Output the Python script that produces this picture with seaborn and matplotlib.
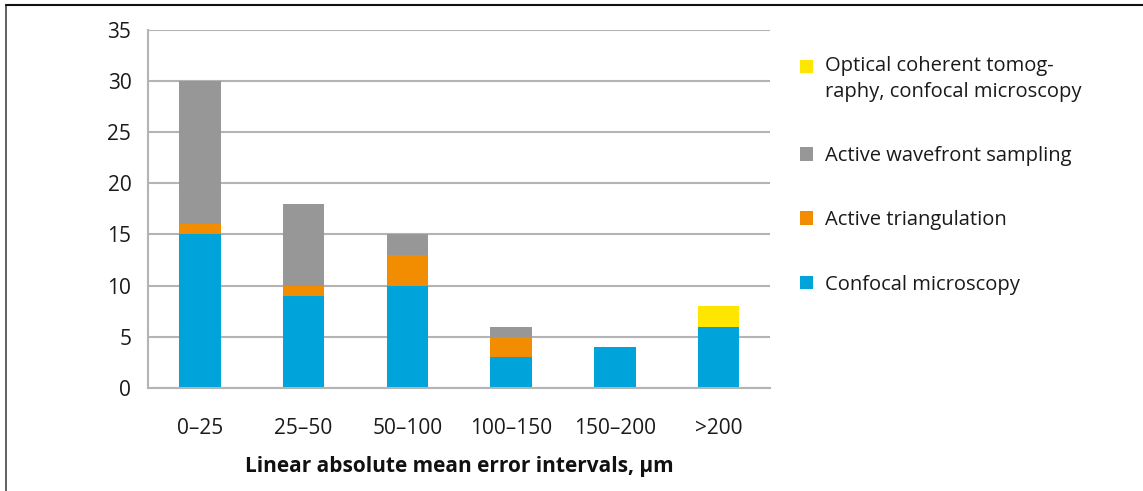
import pandas as pd
import matplotlib.pyplot as plt
import seaborn as sns
from matplotlib.lines import Line2D
from matplotlib.patches import Patch

intervals = ['0–25', '25–50', '50–100', '100–150', '150–200', '>200']
confocal = [15, 9, 10, 3, 4, 6]
triangulation = [1, 1, 3, 2, 0, 0]
wavefront = [14, 8, 2, 1, 0, 0]
oct_confocal = [0, 0, 0, 0, 0, 2]

series_names = ['Confocal microscopy', 'Active triangulation',
                'Active wavefront sampling',
                'Optical coherent tomog-\nraphy, confocal microscopy']
series_colors = ['#00a3da', '#f28c00', '#969796', '#ffe600']

df = pd.DataFrame({'interval': intervals, 'c': confocal, 't': triangulation,
                   'w': wavefront, 'o': oct_confocal})

sns.set_style('white')
plt.rcParams['font.family'] = ['Open Sans', 'DejaVu Sans']

fig = plt.figure(figsize=(11.43, 4.91), dpi=100)
ax = fig.add_axes([0.1295, 0.21, 0.5445, 0.729])

bottom = [0] * len(intervals)
for col, color in zip(['c', 't', 'w', 'o'], series_colors):
    sns.barplot(data=df, x='interval', y=col, color=color, width=0.4,
                bottom=bottom, ax=ax, saturation=1, linewidth=0)
    bottom = [b + v for b, v in zip(bottom, df[col])]

ax.set_ylim(0, 35)
ax.set_yticks(range(0, 36, 5))
ax.set_xlim(-0.5, len(intervals) - 0.5)
ax.yaxis.grid(True, color='#b4b4b4', linewidth=1.5)
ax.set_axisbelow(True)
for s in ['top', 'right']:
    ax.spines[s].set_visible(False)
for s in ['left', 'bottom']:
    ax.spines[s].set_color('#b4b4b4')
    ax.spines[s].set_linewidth(1.5)

# x ticks between categories
ax.set_xticks([i - 0.5 for i in range(len(intervals) + 1)], minor=True)
ax.tick_params(axis='x', which='minor', length=8, width=1.5, color='#b4b4b4', direction='out')
ax.tick_params(axis='x', which='major', length=0, pad=22, labelsize=15, labelcolor='#1a1a1a')
ax.tick_params(axis='y', length=6, width=1.5, color='#b4b4b4', pad=6, labelsize=15, labelcolor='#1a1a1a')
ax.set_xticks(range(len(intervals)))
ax.set_xticklabels(intervals)
ax.set_ylabel('')
ax.set_xlabel('Linear absolute mean error intervals, μm', fontsize=15,
              fontweight='bold', labelpad=12, color='#111111')

handles = [Patch(facecolor=c, edgecolor='none') for c in series_colors][::-1]
labels = series_names[::-1]
leg = fig.legend(handles, labels, loc='upper left', bbox_to_anchor=(0.684, 0.922),
                 frameon=False, fontsize=14.5, handlelength=0.65, handleheight=0.65,
                 handletextpad=0.6, labelspacing=2.2, labelcolor='#1a1a1a')
for t in leg.get_texts():
    t.set_linespacing(1.35)
# yellow marker sits next to the first line of its two-line label
h0 = leg.legend_handles[0]
h0.set_y(h0.get_y() + 9.5)

# outer frame (left and top)
fig.add_artist(Line2D([0.005, 0.005], [0, 0.99], transform=fig.transFigure, color='#444444', lw=1.2))
fig.add_artist(Line2D([0.005, 1.0], [0.99, 0.99], transform=fig.transFigure, color='#111111', lw=1.5))

fig.savefig('out.png', dpi=100)
